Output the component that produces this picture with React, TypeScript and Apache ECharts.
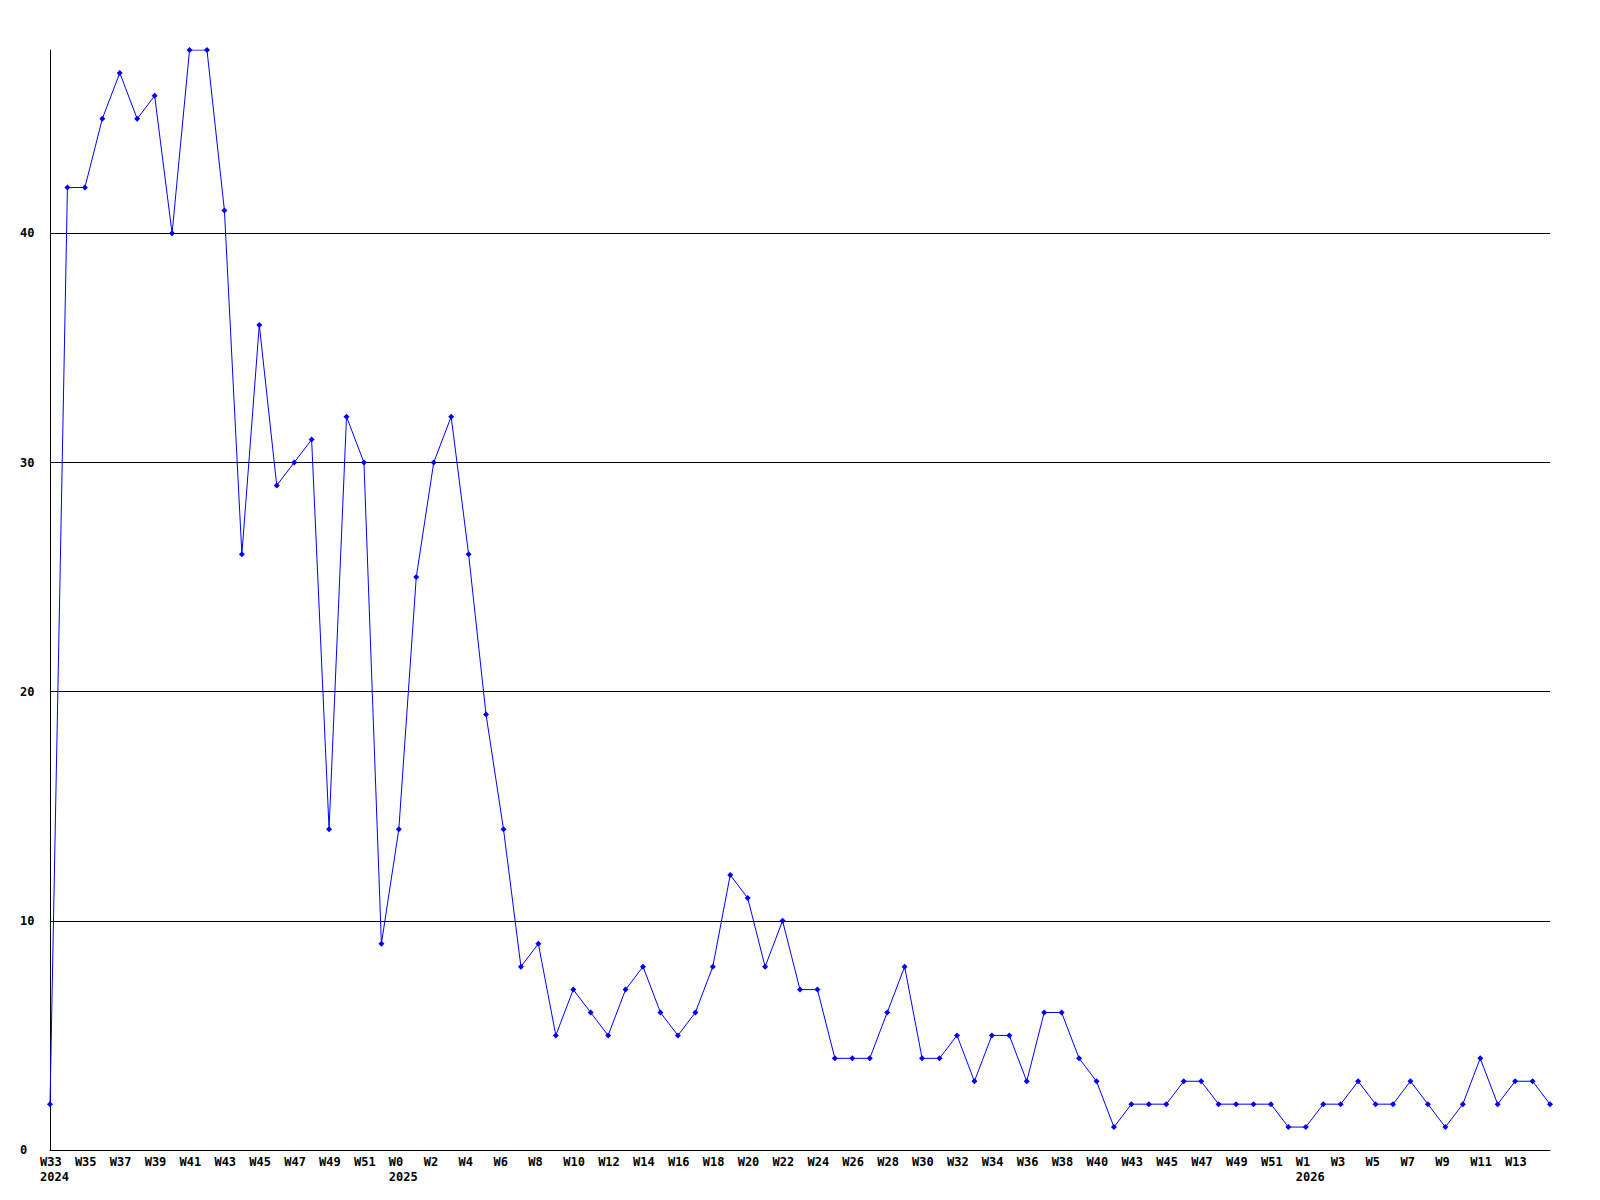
import React, { useEffect, useRef } from "react";
import * as echarts from "echarts";

// Weekly values, one per week from W33 2024 onward
const values: number[] = [
  2, 42, 42, 45, 47, 45, 46, 40, 48, 48,
  41, 26, 36, 29, 30, 31, 14, 32, 30, 9,
  14, 25, 30, 32, 26, 19, 14, 8, 9, 5,
  7, 6, 5, 7, 8, 6, 5, 6, 8, 12,
  11, 8, 10, 7, 7, 4, 4, 4, 6, 8,
  4, 4, 5, 3, 5, 5, 3, 6, 6, 4,
  3, 1, 2, 2, 2, 3, 3, 2, 2, 2,
  2, 1, 1, 2, 2, 3, 2, 2, 3, 2,
  1, 2, 4, 2, 3, 3, 2,
];

// X tick labels and the point index where each one sits
const weekLabels: string[] = [
  "W33", "W35", "W37", "W39", "W41", "W43", "W45", "W47", "W49", "W51",
  "W0", "W2", "W4", "W6", "W8",
  "W10", "W12", "W14", "W16", "W18", "W20", "W22", "W24", "W26", "W28",
  "W30", "W32", "W34", "W36", "W38",
  "W40", "W43", "W45", "W47", "W49", "W51",
  "W1", "W3", "W5", "W7", "W9", "W11", "W13",
];
const weekTickIdx: number[] = [
  0, 2, 4, 6, 8, 10, 12, 14, 16, 18,
  20, 22, 24, 26, 28,
  30, 32, 34, 36, 38, 40, 42, 44, 46, 48,
  50, 52, 54, 56, 58,
  60, 62, 64, 66, 68, 70,
  72, 74, 76, 78, 80, 82, 84,
];
const yearLabels: string[] = [
  "2024", "", "", "", "", "", "", "", "", "",
  "2025", "", "", "", "",
  "", "", "", "", "", "", "", "", "", "",
  "", "", "", "", "",
  "", "", "", "", "", "",
  "2026", "", "", "", "", "", "",
];

const yTicks: number[] = [0, 10, 20, 30, 40];
const yMax = 48;

const FONT = "'DejaVu Sans Mono', 'Liberation Mono', monospace";

export default function App() {
  const ref = useRef<HTMLDivElement>(null);

  useEffect(() => {
    if (!ref.current) return;
    const chart = echarts.init(ref.current, null, { renderer: "svg" });
    const lastIdx = values.length - 1;
    const pts = values.map((v, i) => [i, v]);

    const labelFor = (val: number) => {
      let best = 0;
      let bd = Infinity;
      weekTickIdx.forEach((p, i) => {
        const d = Math.abs(p - val);
        if (d < bd) {
          bd = d;
          best = i;
        }
      });
      const y = yearLabels[best];
      return y ? weekLabels[best] + "\n" + y : weekLabels[best];
    };

    chart.setOption({
      animation: false,
      backgroundColor: "#ffffff",
      grid: [
        { left: 50, right: 50, top: 50, bottom: 50, containLabel: false },
        { left: 40, right: 60, top: 50, bottom: 50, containLabel: false },
      ],
      xAxis: [
        {
          type: "value",
          gridIndex: 0,
          min: 0,
          max: lastIdx,
          axisLine: { show: true, onZero: false, lineStyle: { color: "#000", width: 1 } },
          axisTick: { show: false },
          axisLabel: { show: false },
          splitLine: { show: false },
        },
        {
          type: "value",
          gridIndex: 1,
          min: 0,
          max: lastIdx,
          axisLine: { show: false },
          axisTick: { show: false },
          splitLine: { show: false },
          axisLabel: {
            show: true,
            customValues: weekTickIdx,
            formatter: (v: number) => labelFor(v),
            align: "left",
            verticalAlign: "top",
            margin: 5,
            color: "#000",
            fontFamily: FONT,
            fontWeight: "bold",
            fontSize: 12,
            lineHeight: 14.5,
            hideOverlap: false,
            showMinLabel: true,
            showMaxLabel: true,
          },
        },
      ],
      yAxis: [
        {
          type: "value",
          gridIndex: 0,
          min: 0,
          max: yMax,
          interval: 10,
          axisLine: { show: true, onZero: false, lineStyle: { color: "#000", width: 1 } },
          axisTick: { show: false },
          axisLabel: {
            show: true,
            customValues: yTicks,
            align: "left",
            margin: 30,
            color: "#000",
            fontFamily: FONT,
            fontWeight: "bold",
            fontSize: 12,
            showMinLabel: true,
            showMaxLabel: true,
          },
          splitLine: {
            show: true,
            showMinLine: false,
            showMaxLine: false,
            lineStyle: { color: "#000", width: 1, type: "solid" },
          },
        },
        {
          type: "value",
          gridIndex: 1,
          min: 0,
          max: yMax,
          show: false,
        },
      ],
      series: [
        {
          type: "line",
          xAxisIndex: 0,
          yAxisIndex: 0,
          data: pts,
          symbol: "diamond",
          symbolSize: 6,
          showSymbol: true,
          lineStyle: { color: "#0000ff", width: 1 },
          itemStyle: { color: "#0000ff", borderWidth: 0 },
          emphasis: { disabled: true },
        },
      ],
    });

    return () => chart.dispose();
  }, []);

  return (
    <div
      ref={ref}
      style={{ position: "fixed", left: 0, top: 0, width: 1600, height: 1200, background: "#fff" }}
    />
  );
}
